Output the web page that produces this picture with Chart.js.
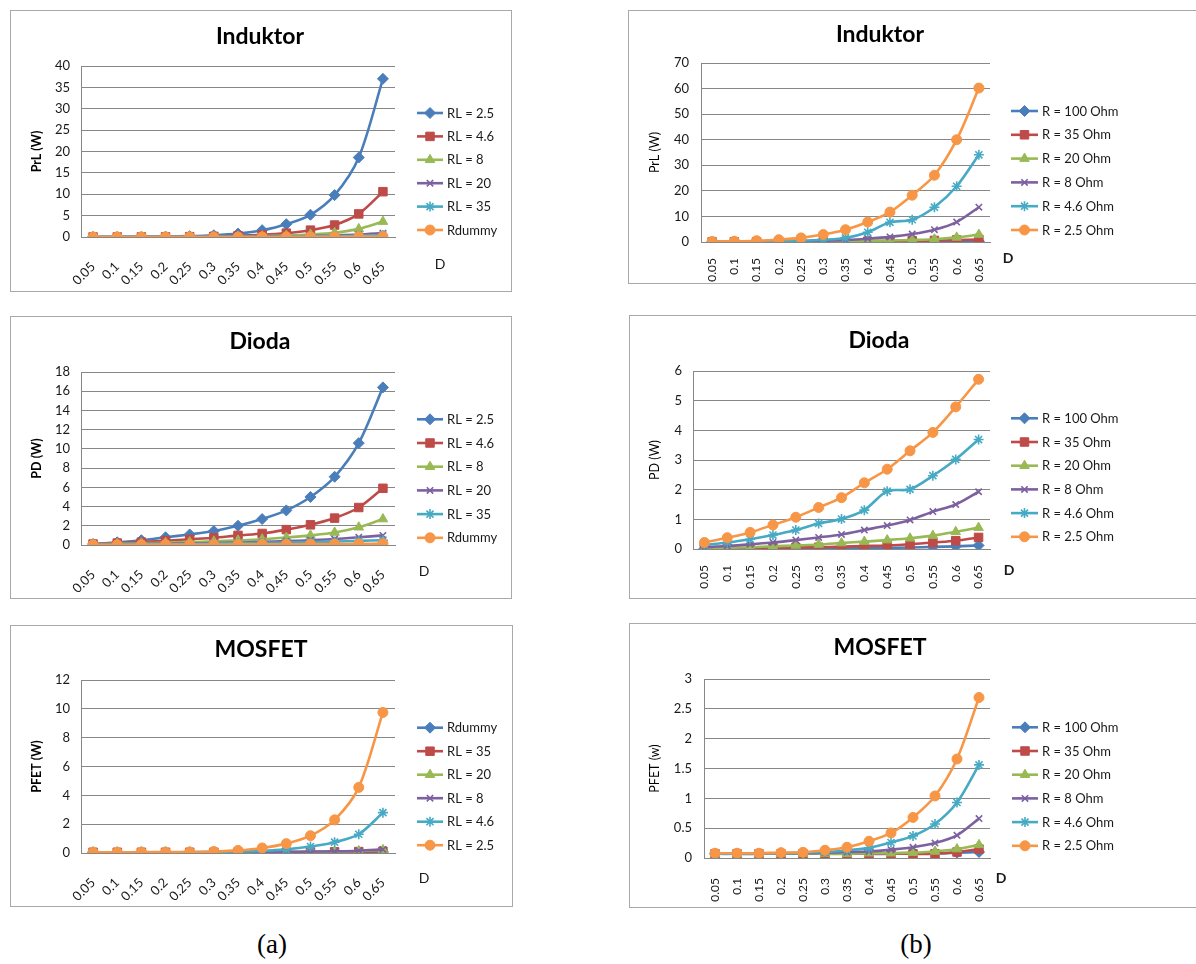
<!DOCTYPE html>
<html>
<head>
<meta charset="utf-8">
<script src="https://cdn.jsdelivr.net/npm/chart.js@4/dist/chart.umd.min.js"></script>
<style>
  html, body { margin: 0; padding: 0; background: #fff; }
  body { width: 1196px; height: 964px; position: relative; overflow: hidden; }
  canvas { position: absolute; }
  .frame { position: absolute; border: 1px solid #a9a9a9; box-sizing: border-box; pointer-events: none; }
  .cap { position: absolute; font-family: "Liberation Serif", "Times New Roman", serif; font-size: 27px; color: #000; transform: translate(-50%, -50%); }
</style>
</head>
<body>

<div class="cap" style="left:272px; top:944px;">(a)</div>
<div class="cap" style="left:916px; top:944px;">(b)</div>

<script>
// Duty cycle categories (x axis)
const D_LABELS = ['0.05', '0.1', '0.15', '0.2', '0.25', '0.3', '0.35', '0.4', '0.45', '0.5', '0.55', '0.6', '0.65'];

// Series names
const NAMES_A = ['RL = 2.5', 'RL = 4.6', 'RL = 8', 'RL = 20', 'RL = 35', 'Rdummy'];
const NAMES_A_MOS = ['Rdummy', 'RL = 35', 'RL = 20', 'RL = 8', 'RL = 4.6', 'RL = 2.5'];
const NAMES_B = ['R = 100 Ohm', 'R = 35 Ohm', 'R = 20 Ohm', 'R = 8 Ohm', 'R = 4.6 Ohm', 'R = 2.5 Ohm'];

// (a) Induktor, PrL (W)
const indA_RL2_5 = [0.01, 0.02, 0.04, 0.1, 0.2, 0.4, 0.8, 1.6, 3.0, 5.2, 9.8, 18.6, 37.0];
const indA_RL4_6 = [0.01, 0.01, 0.02, 0.04, 0.08, 0.15, 0.3, 0.5, 0.9, 1.6, 2.8, 5.4, 10.6];
const indA_RL8 = [0, 0.01, 0.01, 0.02, 0.04, 0.07, 0.12, 0.2, 0.35, 0.6, 1.0, 1.9, 3.6];
const indA_RL20 = [0, 0, 0.01, 0.01, 0.02, 0.03, 0.05, 0.08, 0.13, 0.2, 0.35, 0.55, 0.9];
const indA_RL35 = [0, 0, 0, 0.01, 0.01, 0.02, 0.03, 0.05, 0.08, 0.12, 0.18, 0.3, 0.45];
const indA_Rdummy = [0, 0, 0, 0, 0, 0, 0.01, 0.01, 0.02, 0.03, 0.05, 0.08, 0.12];

// (a) Dioda, PD (W)
const dioA_RL2_5 = [0.1, 0.28, 0.5, 0.8, 1.1, 1.45, 2.0, 2.7, 3.6, 5.0, 7.1, 10.6, 16.4];
const dioA_RL4_6 = [0.1, 0.2, 0.3, 0.45, 0.6, 0.75, 1.0, 1.2, 1.6, 2.1, 2.8, 3.9, 5.9];
const dioA_RL8 = [0.08, 0.13, 0.18, 0.24, 0.3, 0.38, 0.48, 0.6, 0.78, 1.0, 1.3, 1.85, 2.7];
const dioA_RL20 = [0.05, 0.08, 0.1, 0.13, 0.17, 0.21, 0.26, 0.32, 0.4, 0.5, 0.62, 0.8, 1.0];
const dioA_RL35 = [0.04, 0.06, 0.08, 0.1, 0.12, 0.15, 0.18, 0.21, 0.25, 0.3, 0.36, 0.43, 0.5];
const dioA_Rdummy = [0.02, 0.03, 0.03, 0.04, 0.05, 0.05, 0.06, 0.07, 0.08, 0.09, 0.1, 0.12, 0.14];

// (a) MOSFET, PFET (W)
const mosA_Rdummy = [0.05, 0.05, 0.05, 0.05, 0.05, 0.05, 0.05, 0.05, 0.05, 0.05, 0.06, 0.06, 0.07];
const mosA_RL35 = [0.05, 0.05, 0.05, 0.05, 0.05, 0.05, 0.05, 0.06, 0.06, 0.07, 0.08, 0.1, 0.12];
const mosA_RL20 = [0.05, 0.05, 0.05, 0.05, 0.05, 0.05, 0.06, 0.06, 0.07, 0.08, 0.1, 0.14, 0.22];
const mosA_RL8 = [0.05, 0.05, 0.05, 0.05, 0.05, 0.06, 0.06, 0.07, 0.08, 0.1, 0.12, 0.16, 0.25];
const mosA_RL4_6 = [0.05, 0.05, 0.05, 0.05, 0.06, 0.07, 0.09, 0.14, 0.25, 0.45, 0.75, 1.3, 2.8];
const mosA_RL2_5 = [0.05, 0.05, 0.06, 0.06, 0.07, 0.1, 0.18, 0.35, 0.65, 1.2, 2.3, 4.55, 9.75];

// (b) Induktor, PrL (W)
const indB_R100 = [0.02, 0.02, 0.03, 0.04, 0.05, 0.06, 0.08, 0.1, 0.12, 0.15, 0.18, 0.22, 0.3];
const indB_R35 = [0.05, 0.06, 0.08, 0.1, 0.13, 0.17, 0.22, 0.3, 0.38, 0.5, 0.62, 0.8, 1.0];
const indB_R20 = [0.08, 0.1, 0.13, 0.16, 0.2, 0.27, 0.35, 0.45, 0.6, 0.8, 1.1, 1.8, 2.9];
const indB_R8 = [0.1, 0.12, 0.15, 0.22, 0.32, 0.5, 0.8, 1.3, 2.0, 3.1, 4.8, 7.8, 13.6];
const indB_R4_6 = [0.12, 0.15, 0.2, 0.3, 0.5, 0.9, 1.6, 3.8, 7.7, 8.7, 13.6, 21.8, 34.1];
const indB_R2_5 = [0.2, 0.3, 0.5, 0.9, 1.6, 2.9, 4.8, 7.8, 11.7, 18.3, 26.1, 40.0, 60.2];

// (b) Dioda, PD (W)
const dioB_R100 = [0.01, 0.01, 0.01, 0.02, 0.02, 0.02, 0.03, 0.03, 0.04, 0.05, 0.07, 0.09, 0.12];
const dioB_R35 = [0.02, 0.02, 0.03, 0.04, 0.05, 0.06, 0.08, 0.1, 0.12, 0.16, 0.22, 0.28, 0.39];
const dioB_R20 = [0.03, 0.04, 0.06, 0.09, 0.12, 0.15, 0.2, 0.25, 0.3, 0.36, 0.45, 0.58, 0.72];
const dioB_R8 = [0.06, 0.1, 0.16, 0.22, 0.3, 0.39, 0.49, 0.64, 0.79, 0.98, 1.26, 1.5, 1.93];
const dioB_R4_6 = [0.13, 0.22, 0.33, 0.47, 0.64, 0.86, 1.01, 1.31, 1.95, 2.01, 2.47, 3.02, 3.69];
const dioB_R2_5 = [0.22, 0.38, 0.56, 0.81, 1.07, 1.4, 1.73, 2.23, 2.69, 3.31, 3.93, 4.79, 5.72];

// (b) MOSFET, PFET (w)
const mosB_R100 = [0.07, 0.07, 0.07, 0.07, 0.07, 0.07, 0.07, 0.07, 0.07, 0.08, 0.08, 0.09, 0.1];
const mosB_R35 = [0.07, 0.07, 0.07, 0.07, 0.07, 0.07, 0.07, 0.07, 0.07, 0.07, 0.07, 0.1, 0.15];
const mosB_R20 = [0.07, 0.07, 0.07, 0.07, 0.07, 0.07, 0.07, 0.08, 0.08, 0.09, 0.11, 0.15, 0.22];
const mosB_R8 = [0.07, 0.07, 0.07, 0.08, 0.08, 0.09, 0.1, 0.11, 0.14, 0.18, 0.25, 0.38, 0.66];
const mosB_R4_6 = [0.07, 0.07, 0.075, 0.08, 0.09, 0.1, 0.13, 0.17, 0.26, 0.37, 0.57, 0.93, 1.56];
const mosB_R2_5 = [0.08, 0.08, 0.08, 0.09, 0.095, 0.13, 0.18, 0.28, 0.42, 0.68, 1.04, 1.66, 2.69];

// Office palette and marker per series slot
const COLORS = ['#4A7EBB', '#BE4B48', '#98B954', '#7D60A0', '#46AAC5', '#F79646'];
const MARKERS = ['rectRot', 'rect', 'triangle', 'crossRot', 'star', 'circle'];
const MARKER_R = [5.5, 6, 5.5, 4.5, 5, 5];

const FONT = 'Lato, "Open Sans", sans-serif';
Chart.defaults.font.family = FONT;
Chart.defaults.color = '#1a1a1a';

function buildDatasets(names, seriesList) {
  return seriesList.map((vals, i) => ({
    label: names[i],
    data: vals,
    borderColor: COLORS[i],
    backgroundColor: COLORS[i],
    borderWidth: 2.6,
    pointStyle: MARKERS[i],
    pointRadius: MARKER_R[i],
    pointHoverRadius: MARKER_R[i],
    pointBackgroundColor: COLORS[i],
    pointBorderColor: COLORS[i],
    pointBorderWidth: (MARKERS[i] === 'crossRot' || MARKERS[i] === 'star') ? 1.6 : 1,
    tension: 0.3,
    fill: false,
    order: seriesList.length - i
  }));
}

// Title, legend and the "D" axis label drawn at fixed spots on each panel
const panelDecor = {
  id: 'panelDecor',
  afterDraw(chart, args, o) {
    const ctx = chart.ctx;
    ctx.save();
    ctx.fillStyle = '#000';
    ctx.font = 'bold 23px ' + FONT;
    ctx.textAlign = 'center';
    ctx.textBaseline = 'middle';
    ctx.fillText(o.title, o.titleX, o.titleY);

    ctx.font = '13px ' + FONT;
    chart.data.datasets.forEach((ds, i) => {
      const y = o.legendY + i * o.legendGap;
      ctx.strokeStyle = ds.borderColor;
      ctx.lineWidth = ds.borderWidth;
      ctx.beginPath();
      ctx.moveTo(o.legendX0, y);
      ctx.lineTo(o.legendX1, y);
      ctx.stroke();
      const cx = (o.legendX0 + o.legendX1) / 2;
      ctx.fillStyle = ds.pointBackgroundColor;
      ctx.strokeStyle = ds.pointBorderColor;
      ctx.lineWidth = ds.pointBorderWidth;
      if (Chart.helpers && Chart.helpers.drawPoint) {
        Chart.helpers.drawPoint(ctx, {
          pointStyle: ds.pointStyle, radius: ds.pointRadius, rotation: 0, borderWidth: ds.pointBorderWidth
        }, cx, y);
      } else {
        ctx.beginPath(); ctx.arc(cx, y, ds.pointRadius, 0, Math.PI * 2); ctx.fill();
      }
      ctx.fillStyle = '#1a1a1a';
      ctx.textAlign = 'left';
      ctx.textBaseline = 'middle';
      ctx.fillText(ds.label, o.legendTextX, y + 0.5);
    });

    ctx.font = (o.dBold ? 'bold ' : '') + '14px ' + FONT;
    ctx.textAlign = 'center';
    ctx.fillStyle = '#1a1a1a';
    ctx.fillText('D', o.dX, o.dY);
    ctx.restore();
  }
};

// Panel layout: frame, plot area (canvas-relative), text positions
const PANELS = [
  { left: 10, top: 10, w: 502, h: 282, area: { l: 71, t: 56, r: 385, b: 227 },
    title: 'Induktor', titleX: 250, titleY: 27, yTitle: 'PrL (W)', yBold: true, yTitleCx: 27,
    yMax: 40, yStep: 5, rot: 45, tickPad: 11, xPad: 14,
    legend: { x0: 407, x1: 433, tx: 437, y: 103, gap: 23.4 }, dX: 430, dY: 254, dBold: false,
    names: NAMES_A, series: [indA_RL2_5, indA_RL4_6, indA_RL8, indA_RL20, indA_RL35, indA_Rdummy] },
  { left: 10, top: 316, w: 502, h: 283, area: { l: 71, t: 56, r: 385, b: 229 },
    title: 'Dioda', titleX: 250, titleY: 26, yTitle: 'PD (W)', yBold: true, yTitleCx: 27,
    yMax: 18, yStep: 2, rot: 45, tickPad: 11, xPad: 14,
    legend: { x0: 407, x1: 433, tx: 437, y: 103.3, gap: 23.7 }, dX: 414, dY: 255, dBold: false,
    names: NAMES_A, series: [dioA_RL2_5, dioA_RL4_6, dioA_RL8, dioA_RL20, dioA_RL35, dioA_Rdummy] },
  { left: 10, top: 625, w: 503, h: 282, area: { l: 71, t: 55, r: 385, b: 228 },
    title: 'MOSFET', titleX: 251, titleY: 25, yTitle: 'PFET (W)', yBold: true, yTitleCx: 27,
    yMax: 12, yStep: 2, rot: 45, tickPad: 11, xPad: 14,
    legend: { x0: 407, x1: 433, tx: 437, y: 102.7, gap: 23.5 }, dX: 414, dY: 253, dBold: false,
    names: NAMES_A_MOS, series: [mosA_Rdummy, mosA_RL35, mosA_RL20, mosA_RL8, mosA_RL4_6, mosA_RL2_5] },
  { left: 628, top: 10, w: 572, h: 274, area: { l: 73, t: 53, r: 362, b: 232 },
    title: 'Induktor', titleX: 252, titleY: 25, yTitle: 'PrL (W)', yBold: false, yTitleCx: 27,
    yMax: 70, yStep: 10, rot: 90, tickPad: 12, xPad: 8,
    legend: { x0: 383, x1: 410, tx: 414, y: 101, gap: 23.8 }, dX: 380, dY: 248, dBold: true,
    names: NAMES_B, series: [indB_R100, indB_R35, indB_R20, indB_R8, indB_R4_6, indB_R2_5] },
  { left: 629, top: 315, w: 572, h: 284, area: { l: 64, t: 56, r: 361, b: 234 },
    title: 'Dioda', titleX: 250, titleY: 26, yTitle: 'PD (W)', yBold: false, yTitleCx: 26,
    yMax: 6, yStep: 1, rot: 90, tickPad: 11, xPad: 8,
    legend: { x0: 382, x1: 409, tx: 413, y: 103.3, gap: 23.7 }, dX: 380, dY: 255, dBold: true,
    names: NAMES_B, series: [dioB_R100, dioB_R35, dioB_R20, dioB_R8, dioB_R4_6, dioB_R2_5] },
  { left: 629, top: 623, w: 572, h: 285, area: { l: 75, t: 56, r: 361, b: 235 },
    title: 'MOSFET', titleX: 251, titleY: 25, yTitle: 'PFET (w)', yBold: false, yTitleCx: 26,
    yMax: 3, yStep: 0.5, rot: 90, tickPad: 12, xPad: 12,
    legend: { x0: 383, x1: 409, tx: 413, y: 104.3, gap: 23.7 }, dX: 372, dY: 255, dBold: true,
    names: NAMES_B, series: [mosB_R100, mosB_R35, mosB_R20, mosB_R8, mosB_R4_6, mosB_R2_5] }
];

const GRID = '#878787';

PANELS.forEach(p => {
  const cv = document.createElement('canvas');
  cv.width = p.w; cv.height = p.h;
  cv.style.left = p.left + 'px'; cv.style.top = p.top + 'px';
  cv.style.width = p.w + 'px'; cv.style.height = p.h + 'px';
  document.body.appendChild(cv);

  const fr = document.createElement('div');
  fr.className = 'frame';
  fr.style.left = p.left + 'px'; fr.style.top = p.top + 'px';
  fr.style.width = p.w + 'px'; fr.style.height = p.h + 'px';
  document.body.appendChild(fr);

  // scale title center = scale.left + padding.top(4) + lineHeight/2
  const yTitleFont = 12.5;
  const padLeft = p.yTitleCx - 4 - yTitleFont * 1.2 / 2;
  const yWidth = p.area.l - padLeft;
  const xHeight = p.h - p.area.b;

  new Chart(cv, {
    type: 'line',
    data: { labels: D_LABELS, datasets: buildDatasets(p.names, p.series) },
    options: {
      responsive: false,
      animation: false,
      devicePixelRatio: 1,
      events: [],
      layout: { padding: { left: padLeft, top: p.area.t, right: p.w - p.area.r, bottom: 0 } },
      plugins: {
        legend: { display: false },
        tooltip: { enabled: false },
        title: { display: false },
        panelDecor: {
          title: p.title, titleX: p.titleX, titleY: p.titleY,
          legendX0: p.legend.x0, legendX1: p.legend.x1, legendTextX: p.legend.tx,
          legendY: p.legend.y, legendGap: p.legend.gap,
          dX: p.dX, dY: p.dY, dBold: p.dBold
        }
      },
      scales: {
        x: {
          type: 'category',
          offset: true,
          grid: { display: false },
          border: { display: true, color: GRID, width: 1 },
          ticks: {
            autoSkip: false, minRotation: p.rot, maxRotation: p.rot,
            padding: p.xPad, color: '#1a1a1a',
            font: { size: p.rot === 90 ? 12 : 13 }
          },
          afterFit(scale) { scale.height = xHeight; }
        },
        y: {
          min: 0, max: p.yMax,
          grid: { color: GRID, lineWidth: 1, drawTicks: false },
          border: { display: true, color: GRID, width: 1 },
          ticks: {
            stepSize: p.yStep, padding: p.tickPad, color: '#1a1a1a', font: { size: 13 },
            callback: v => String(Number(v.toFixed(2)))
          },
          title: {
            display: true, text: p.yTitle, color: '#000',
            font: { size: yTitleFont, weight: p.yBold ? 'bold' : 'normal' }
          },
          afterFit(scale) { scale.width = yWidth; }
        }
      }
    },
    plugins: [panelDecor]
  });
});
</script>
</body>
</html>
